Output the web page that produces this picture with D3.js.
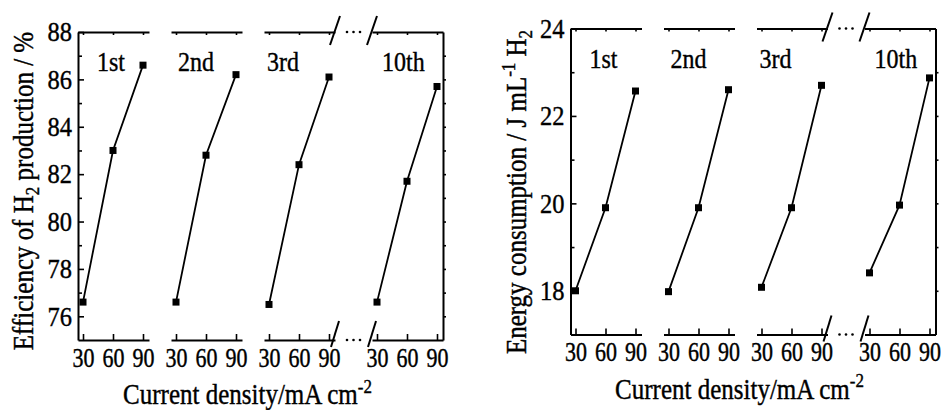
<!DOCTYPE html>
<html><head><meta charset="utf-8">
<script src="https://cdn.jsdelivr.net/npm/d3@7/dist/d3.min.js"></script>
<style>
body{margin:0;background:#fff}
svg text{font-family:'Liberation Serif','DejaVu Serif',serif;fill:#000;stroke:#000;stroke-width:0.35px}
</style>
</head><body>
<svg id="c" width="946" height="410"></svg>
<script>
// ---------- data ----------
const cycles = ["1st", "2nd", "3rd", "10th"];
const currentDensity = [30, 60, 90];
const eff1st  = [76.6, 83.0, 86.6];
const eff2nd  = [76.6, 82.8, 86.2];
const eff3rd  = [76.5, 82.4, 86.1];
const eff10th = [76.6, 81.7, 85.7];
const energy1st  = [18.0, 19.9, 22.57];
const energy2nd  = [17.98, 19.9, 22.6];
const energy3rd  = [18.08, 19.9, 22.7];
const energy10th = [18.41, 19.96, 22.87];
const effTicks = [76, 78, 80, 82, 84, 86, 88];
const effMinor = [77, 79, 81, 83, 85, 87];
const energyTicks = [18, 20, 22, 24];
const energyMinor = [19, 21, 23];
const xTickValues = [30, 60, 90];

// ---------- layout / style ----------
const yTickFS = 24.5, yTickSY = 1.12;
const xTickFS = 22, xTickSY = 1.22;
const labelFS = 24, labelSY = 1.15;
const titleFS = 25, titleSY = 1.15;
const xDomain = [25, 96];
const panelW = 71;
const labelOffsets = [19, 7, 3, 10];
const charts = [
  { series: [eff1st, eff2nd, eff3rd, eff10th], yDomain: [75, 88], ticks: effTicks, minor: effMinor,
    panels: [78, 171, 264, 372], top: 32, bottom: 340,
    yTitle: [{t: "Efficiency of H"}, {t: "2", sub: true}, {t: " production / %"}], yTitlePos: [33, 191],
    xTitlePos: [247.5, 404] },
  { series: [energy1st, energy2nd, energy3rd, energy10th], yDomain: [17, 24], ticks: energyTicks, minor: energyMinor,
    panels: [570.5, 663.5, 756.5, 864.5], top: 28.5, bottom: 334.5,
    yTitle: [{t: "Energy consumption / J mL"}, {t: "-1", sup: true}, {t: " H"}, {t: "2", sub: true}], yTitlePos: [526, 192],
    xTitlePos: [739.5, 398.5] }
];

const svg = d3.select("#c");

function styleAxis(g) {
  g.attr("font-family", null).attr("font-size", null);
  g.select(".domain").attr("stroke", "#000").attr("stroke-width", 2);
  g.selectAll(".tick line").attr("stroke", "#000").attr("stroke-width", 1.6);
  g.selectAll(".tick text").attr("fill", "#000");
}

function richText(sel, parts) {
  let shift = 0;
  parts.forEach(p => {
    const ts = sel.append("tspan").text(p.t);
    const target = p.sub ? 5 : (p.sup ? -10 : 0);
    ts.attr("dy", target - shift);
    shift = target;
    if (p.sub || p.sup) ts.attr("font-size", 17);
  });
}

charts.forEach(ch => {
  const g = svg.append("g");
  const y = d3.scaleLinear().domain(ch.yDomain).range([ch.bottom, ch.top]);
  const left = ch.panels[0];
  const right = ch.panels[3] + panelW;

  // left axis (major + minor, inward ticks)
  const la = g.append("g").attr("transform", `translate(${left},0)`)
    .call(d3.axisLeft(y).tickValues(ch.ticks).tickSize(-6).tickSizeOuter(0).tickPadding(6).tickFormat(d3.format("d")));
  styleAxis(la);
  la.selectAll(".tick text").attr("font-size", yTickFS).attr("transform", `scale(1,${yTickSY})`);
  const lm = g.append("g").attr("transform", `translate(${left},0)`)
    .call(d3.axisLeft(y).tickValues(ch.minor).tickSize(-4).tickSizeOuter(0).tickFormat(""));
  styleAxis(lm); lm.select(".domain").remove();

  // right axis (outward ticks every unit)
  const rTicks = d3.range(Math.ceil(ch.yDomain[0]) + 1, ch.yDomain[1]);
  const ra = g.append("g").attr("transform", `translate(${right},0)`)
    .call(d3.axisRight(y).tickValues(rTicks).tickSize(3).tickSizeOuter(0).tickFormat(""));
  styleAxis(ra);

  // panels
  ch.panels.forEach((px, i) => {
    const x = d3.scaleLinear().domain(xDomain).range([px, px + panelW]);
    const b = g.append("g").attr("transform", `translate(0,${ch.bottom})`)
      .call(d3.axisBottom(x).tickValues(xTickValues).tickSize(-6).tickSizeOuter(0));
    styleAxis(b);
    b.selectAll(".tick text").attr("font-size", xTickFS).attr("y", 0).attr("dy", null)
      .attr("transform", `translate(0,26.5) scale(1,${xTickSY})`);
    const t = g.append("g").attr("transform", `translate(0,${ch.top})`)
      .call(d3.axisTop(x).tickValues(xTickValues).tickSize(-3).tickSizeOuter(0).tickFormat(""));
    styleAxis(t);

    const pts = currentDensity.map((c, k) => [x(c), y(ch.series[i][k])]);
    g.append("path").attr("d", d3.line()(pts)).attr("fill", "none").attr("stroke", "#000").attr("stroke-width", 1.8);
    g.selectAll(null).data(pts).enter().append("rect")
      .attr("x", d => d[0] - 3.5).attr("y", d => d[1] - 3.5).attr("width", 7).attr("height", 7).attr("fill", "#000");

    g.append("text").attr("font-size", labelFS)
      .attr("transform", `translate(${px + labelOffsets[i]},${ch.top + 39}) scale(1,${labelSY})`)
      .text(cycles[i]);
  });

  // break marks between 3rd and 10th
  const xe = ch.panels[2] + panelW, xs = ch.panels[3];
  [xe, xs].forEach(bx => {
    g.append("line").attr("x1", bx - 5).attr("y1", ch.top + 13).attr("x2", bx + 5).attr("y2", ch.top - 16)
      .attr("stroke", "#000").attr("stroke-width", 2);
    g.append("line").attr("x1", bx - 4).attr("y1", ch.bottom + 7).attr("x2", bx + 4).attr("y2", ch.bottom - 19)
      .attr("stroke", "#000").attr("stroke-width", 2);
  });
  const mid = (xe + xs) / 2;
  [ch.top, ch.bottom].forEach(yy => {
    [-6.5, 0, 6.5].forEach(dx => {
      g.append("circle").attr("cx", mid + dx).attr("cy", yy).attr("r", 1.3).attr("fill", "#000");
    });
  });

  // titles
  const yt = g.append("text").attr("text-anchor", "middle").attr("font-size", titleFS)
    .attr("transform", `translate(${ch.yTitlePos[0]},${ch.yTitlePos[1]}) rotate(-90) scale(1,${titleSY})`);
  richText(yt, ch.yTitle);
  const xt = g.append("text").attr("text-anchor", "middle").attr("font-size", titleFS)
    .attr("transform", `translate(${ch.xTitlePos[0]},${ch.xTitlePos[1]}) scale(1,${titleSY})`);
  richText(xt, [{t: "Current density/mA cm"}, {t: "-2", sup: true}]);
});
</script>
</body></html>
